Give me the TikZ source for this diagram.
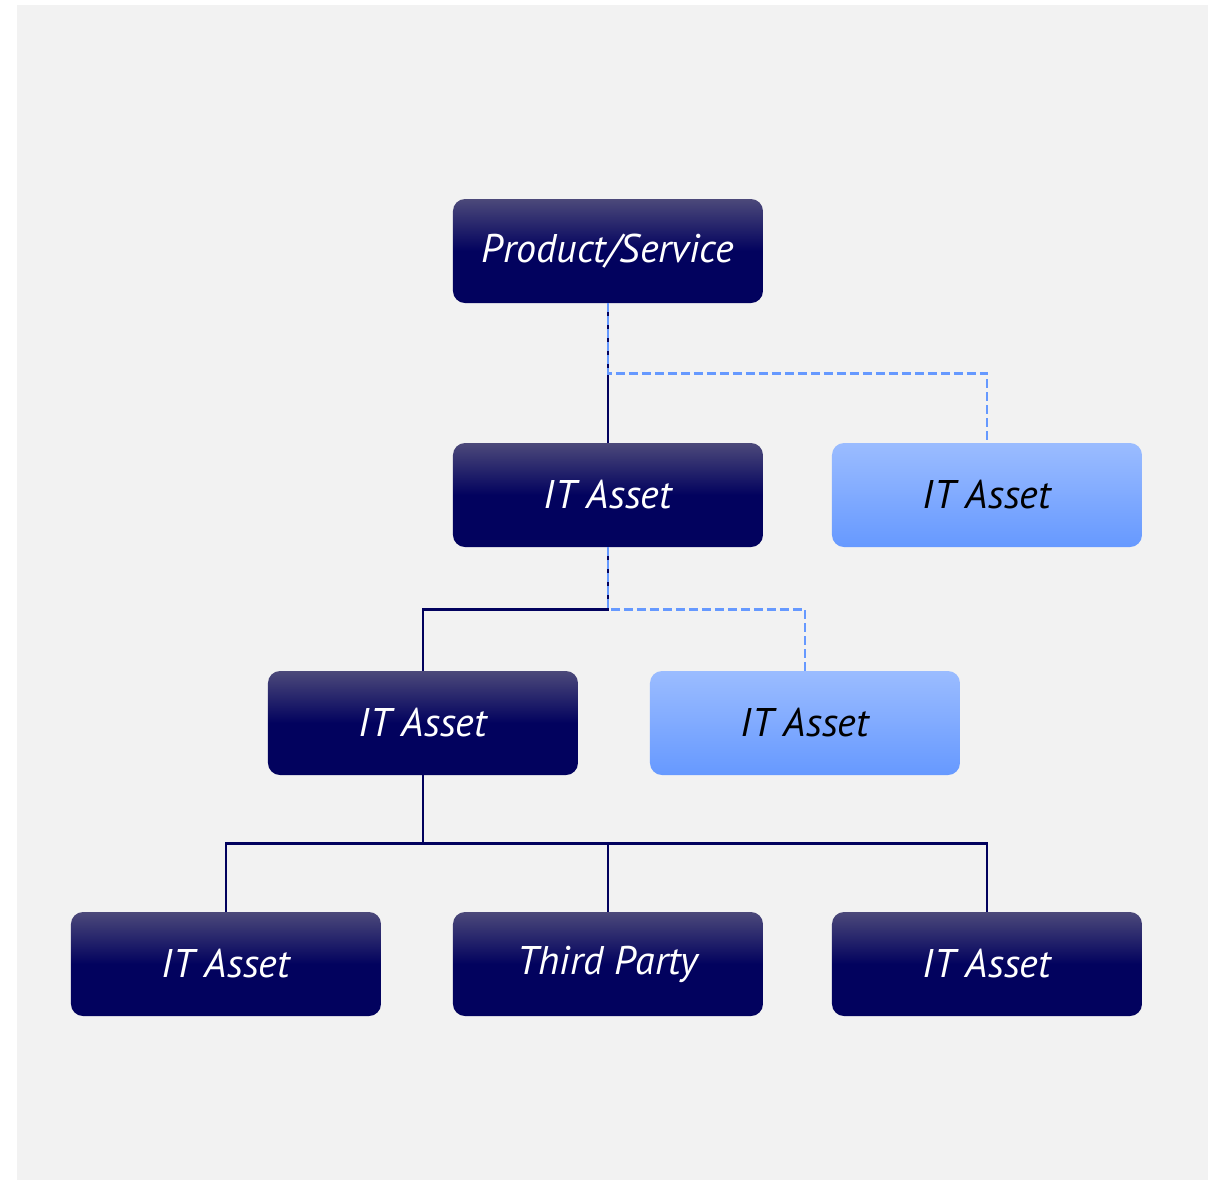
\documentclass[tikz,border=0pt]{standalone}
\usepackage{fontspec}
\setmainfont{PT Sans}
\usetikzlibrary{positioning}

\definecolor{navytop}{RGB}{76,73,122}
\definecolor{navy}{RGB}{2,2,94}
\definecolor{skytop}{RGB}{155,188,255}
\definecolor{sky}{RGB}{102,153,255}
\definecolor{paper}{RGB}{242,242,242}

\begin{document}
\begin{tikzpicture}[auto, on grid,
    box/.style={rounded corners=6pt, minimum width=155pt, minimum height=52pt,
        font=\fontsize{20}{24}\selectfont\itshape},
    darkbox/.style={box, top color=navytop, bottom color=navy, middle color=navy, text=white},
    lightbox/.style={box, top color=skytop, bottom color=sky, text=black},
    tie/.style={draw=navy, line width=1.1pt},
    dashtie/.style={draw=sky, line width=1.2pt, dash pattern=on 4.5pt off 2pt}]

    % canvas
    \useasboundingbox (-304pt,125.5pt) rectangle (307pt,-464.5pt);
    \fill[paper] (-295.5pt,123pt) rectangle (300pt,-464.5pt);

    \node[darkbox] (PS) {Product/Service};
    \node[darkbox, below=122pt of PS] (A1) {IT Asset};
    \node[lightbox, right=189.5pt of A1] (B1) {IT Asset};
    \node[darkbox, below left=114pt and 92.5pt of A1] (A2) {IT Asset};
    \node[lightbox, right=191pt of A2] (B2) {IT Asset};
    \node[darkbox, below=234.5pt of A1] (TP) {Third Party};
    \node[darkbox, left=191pt of TP] (C1) {IT Asset};
    \node[darkbox, right=189.5pt of TP] (C3) {IT Asset};

    % solid links
    \path[tie] (PS) -- (A1);
    \path[tie] (A1.south) -- ++(0,-31pt) -| (A2.north);
    \path[tie] (A2.south) -- ++(0,-34pt) -| (C1.north);
    \path[tie] (A2.south) -- ++(0,-34pt) -| (TP.north);
    \path[tie] (A2.south) -- ++(0,-34pt) -| (C3.north);

    % dashed links
    \path[dashtie] (PS.south) -- ++(0,-35pt) -| (B1.north);
    \path[dashtie] (A1.south) -- ++(0,-31pt) -| (B2.north);
\end{tikzpicture}
\end{document}
